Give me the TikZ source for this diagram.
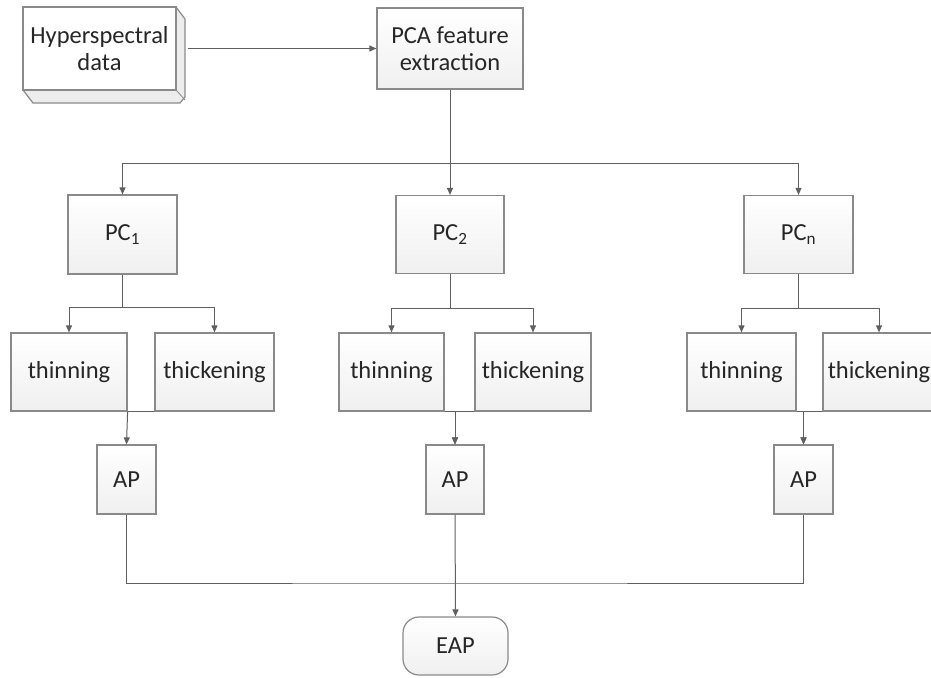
\documentclass[tikz,border=0pt]{standalone}
\usepackage{fontspec}
\setmainfont{Carlito}
\usetikzlibrary{arrows.meta}
\definecolor{txt}{HTML}{262626}
\definecolor{bord}{HTML}{8A8A8A}
\definecolor{ln}{HTML}{606060}
\begin{document}
\begin{tikzpicture}[x=1pt,y=-1pt,
  box/.style={draw=bord, line width=1.2pt, top color=white, bottom color=gray!12,
    text=txt, font=\fontsize{24.5}{27}\selectfont, inner sep=2pt, align=center},
  conn/.style={draw=ln, line width=1pt},
  arr/.style={conn, -{Triangle[length=7pt,width=6pt]}}]
\useasboundingbox (0,0) rectangle (931,677);
% 3D box back
\filldraw[draw=bord, line width=1.2pt, fill=gray!14]
  (23,7) -- (176,7) -- (185,19) -- (185,97) -- (180,103) -- (33,103) -- (23,90) -- cycle;
\node[box, top color=white, bottom color=white, minimum width=153pt, minimum height=83pt] (hyp) at (99.5,48.5) {Hyperspectral\\data};
\draw[draw=bord, line width=0.8pt] (hyp.south east) -- (185,100);
\node[box, minimum width=146pt, minimum height=81pt] (pca) at (450,48.5) {PCA feature\\extraction};
\node[box, minimum width=109pt, minimum height=79pt] (pc1) at (122.5,234.5) {PC\textsubscript{1}};
\node[box, minimum width=108pt, minimum height=78pt] (pc2) at (450,234.5) {PC\textsubscript{2}};
\node[box, minimum width=109pt, minimum height=78pt] (pcn) at (798.5,234.5) {PC\textsubscript{n}};
\node[box, minimum width=116pt, minimum height=78pt] (thin1) at (69,372) {thinning};
\node[box, minimum width=119pt, minimum height=78pt] (thick1) at (214.5,372) {thickening};
\node[box, minimum width=105pt, minimum height=78pt] (thin2) at (391.5,372) {thinning};
\node[box, minimum width=116pt, minimum height=78pt] (thick2) at (533,372) {thickening};
\node[box, minimum width=109pt, minimum height=78pt] (thin3) at (741.5,372) {thinning};
\node[box, minimum width=112pt, minimum height=78pt] (thick3) at (879,372) {thickening};
\node[box, minimum width=59pt, minimum height=69pt] (ap1) at (126.5,479.5) {AP};
\node[box, minimum width=58pt, minimum height=69pt] (ap2) at (455,479.5) {AP};
\node[box, minimum width=59pt, minimum height=69pt] (ap3) at (803.5,479.5) {AP};
\node[box, rounded corners=16pt, minimum width=105pt, minimum height=58pt] (eap) at (455.5,646) {EAP};
% connectors
\draw[arr] ([xshift=11pt]hyp.east) -- (pca.west);
\coordinate (top) at (450,163);
\draw[arr] (pca.south) -- (pc2.north);
\draw[arr] (top) -| (pc1.north);
\draw[arr] (top) -| (pcn.north);
\coordinate (b1) at (122.5,307);
\coordinate (b2) at (450,308);
\coordinate (b3) at (798.5,308);
\draw[conn] (pc1.south) -- (b1);
\draw[arr] (b1) -| (thin1.north);
\draw[arr] (b1) -| (thick1.north);
\draw[conn] (pc2.south) -- (b2);
\draw[arr] (b2) -| (thin2.north);
\draw[arr] (b2) -| (thick2.north);
\draw[conn] (pcn.south) -- (b3);
\draw[arr] (b3) -| (thin3.north);
\draw[arr] (b3) -| (thick3.north);
\draw[arr] (thin1.south east) -- (ap1.north);
\draw[conn] (thick1.south west) -- (thin1.south east);
\draw[arr] (thin2.south east) -| (ap2.north);
\draw[arr] (thick2.south west) -| (ap2.north);
\draw[arr] (thin3.south east) -| (ap3.north);
\draw[arr] (thick3.south west) -| (ap3.north);
\coordinate (bus) at (455,583);
\draw[conn] (ap1.south) |- (bus) -| (ap3.south);
\draw[arr] (ap2.south) -- (eap.north);
\end{tikzpicture}
\end{document}
